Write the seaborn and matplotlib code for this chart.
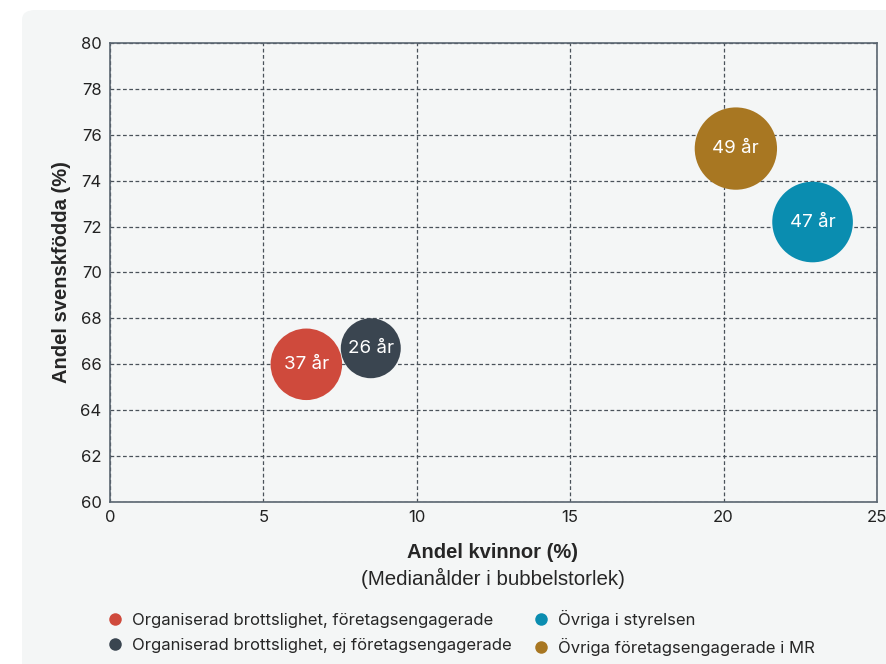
import numpy as np
import pandas as pd
import matplotlib
matplotlib.use("Agg")
import matplotlib.pyplot as plt
import seaborn as sns
from matplotlib.patches import FancyBboxPatch
from matplotlib.lines import Line2D

# data
groups = ["Organiserad brottslighet, företagsengagerade",
          "Organiserad brottslighet, ej företagsengagerade",
          "Övriga i styrelsen",
          "Övriga företagsengagerade i MR"]
andel_kvinnor = [6.4, 8.5, 22.9, 20.4]
andel_svenskfodda = [66.0, 66.7, 72.2, 75.4]
median_alder = [37, 26, 47, 49]
colors = ["#cf4a3c", "#3a4550", "#0a8db0", "#a87722"]

df = pd.DataFrame({"grupp": groups, "x": andel_kvinnor,
                   "y": andel_svenskfodda, "alder": median_alder})

bg = "#f4f6f6"
sns.set_theme(style="white")
plt.rcParams["font.family"] = ["Inter", "DejaVu Sans"]

fig = plt.figure(figsize=(8.87, 6.64), dpi=100)
fig.patch.set_facecolor("white")
panel = FancyBboxPatch((22 / 887, -0.2), 1.2, 654 / 664 + 0.2, transform=fig.transFigure,
                       boxstyle="round,pad=0,rounding_size=0.015",
                       facecolor=bg, edgecolor="none", zorder=-10)
fig.patches.append(panel)

ax = fig.add_axes([110 / 887, 162 / 664, 767 / 887, 459 / 664])
ax.set_facecolor(bg)

k = 71.7  # marker area per year of age
sns.scatterplot(data=df, x="x", y="y", hue="grupp", palette=colors,
                size="alder", sizes=(min(median_alder) * k, max(median_alder) * k),
                size_norm=(min(median_alder), max(median_alder)),
                linewidth=0, alpha=1, legend=False, ax=ax, zorder=3)

for xi, yi, a in zip(andel_kvinnor, andel_svenskfodda, median_alder):
    ax.text(xi, yi, f"{a} år", color="white", ha="center", va="center",
            fontsize=13.5, zorder=4)

ax.set_xlim(0, 25)
ax.set_ylim(60, 80)
ax.set_xticks(range(0, 26, 5))
ax.set_yticks(range(60, 81, 2))
ax.grid(True, linestyle=(0, (3, 2)), color="#4a525a", linewidth=0.9)
ax.set_axisbelow(True)
for s in ax.spines.values():
    s.set_color("#5a6570")
    s.set_linewidth(1.2)
ax.tick_params(axis="both", labelsize=12, colors="#222222", length=0, pad=6)

lab_font = ["Liberation Sans", "DejaVu Sans"]
ax.set_xlabel("")
ax.set_ylabel("Andel svenskfödda (%)", fontsize=14.5, fontweight="bold",
              family=lab_font, labelpad=7)
fig.text(493 / 887, 1 - 552 / 664, "Andel kvinnor (%)", ha="center", va="center",
         fontsize=14.5, fontweight="bold", family=lab_font)
fig.text(493 / 887, 1 - 578 / 664, "(Medianålder i bubbelstorlek)", ha="center",
         va="center", fontsize=14.8, family=lab_font)

handles = [Line2D([], [], marker="o", linestyle="", markersize=9,
                  markerfacecolor=c, markeredgewidth=0) for c in colors]
leg = fig.legend(handles, groups,
                 ncol=2, loc="upper left", bbox_to_anchor=(90 / 887, 1 - 595 / 664),
                 frameon=False, fontsize=12, handletextpad=0.4,
                 columnspacing=1.2, labelspacing=0.6, handlelength=1.2)

fig.savefig("out.png", dpi=100, facecolor="white")
